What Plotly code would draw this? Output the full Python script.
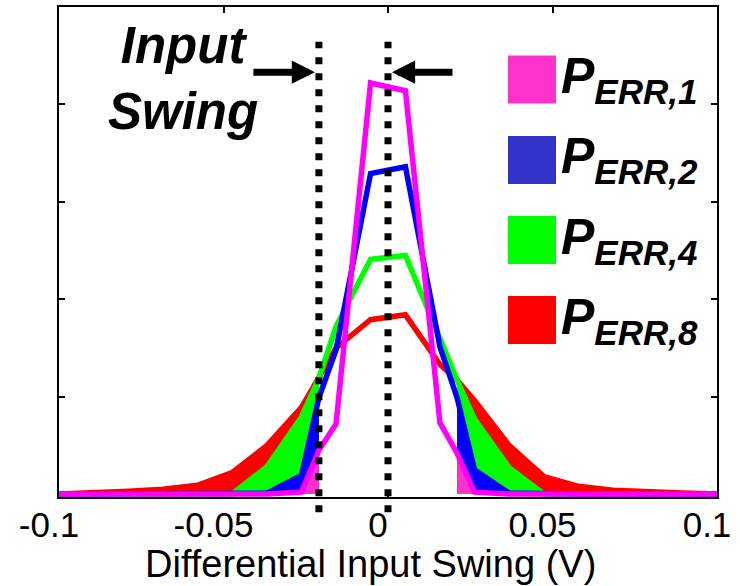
import plotly.graph_objects as go

# ---- data ----
x_v = [-0.1, -0.0895, -0.0789, -0.0684, -0.0579, -0.0474, -0.0368, -0.0263, -0.021, -0.0158, -0.0053,
       0.0053, 0.0158, 0.021, 0.0263, 0.0368, 0.0474, 0.0579, 0.0684, 0.0789, 0.0895, 0.1]
p_err1 = [0, 0, 0, 0, 0, 0, 0, 0.02, 0.45, 0.72, 4.22, 4.14, 0.73, 0.42, 0.02, 0, 0, 0, 0, 0, 0, 0]
p_err2 = [0, 0, 0, 0, 0, 0, 0.01, 0.19, 0.99, 1.48, 3.29, 3.36, 1.51, 0.99, 0.25, 0.01, 0, 0, 0, 0, 0, 0]
p_err4 = [0, 0, 0, 0, 0, 0, 0.28, 0.79, 1.19, 1.72, 2.41, 2.45, 1.6, 1.17, 0.77, 0.27, 0, 0, 0, 0, 0, 0]
p_err8 = [0, 0.01, 0.03, 0.05, 0.09, 0.22, 0.5, 0.89, 1.19, 1.5, 1.79, 1.84, 1.33, 1.17, 0.96, 0.5, 0.18,
          0.08, 0.04, 0.02, 0.01, 0]

swing_lo = -0.021   # left dotted marker
swing_hi = 0.0      # right dotted marker

x_ticks = [-0.1, -0.05, 0, 0.05, 0.1]
x_ticktext = ["-0.1", "-0.05", "0", "0.05", "0.1"]
y_ticks = [1, 2, 3, 4]

series_names = ["P<sub>ERR,8</sub>", "P<sub>ERR,4</sub>", "P<sub>ERR,2</sub>", "P<sub>ERR,1</sub>"]
series_vals = [p_err8, p_err4, p_err2, p_err1]
line_colors = ["#ff0000", "#00ff00", "#0000ff", "#ff00ff"]
fill_colors = ["#ff0000", "#00ff00", "#0000ff", "#ff33cc"]
legend_colors = ["#ff0000", "#00ff00", "#3333cc", "#ff33cc"]

edge = abs(swing_lo)

fig = go.Figure()
for vals, lc, fc in zip(series_vals, line_colors, fill_colors):
    lx = [x for x in x_v if x <= -edge]
    ly = [y for x, y in zip(x_v, vals) if x <= -edge]
    rx = [x for x in x_v if x >= edge]
    ry = [y for x, y in zip(x_v, vals) if x >= edge]
    for tx, ty in ((lx, ly), (rx, ry)):
        fig.add_trace(go.Scatter(x=tx, y=ty, mode="lines", fill="tozeroy", fillcolor=fc,
                                 line=dict(width=0, color=fc), hoverinfo="skip", showlegend=False))
    fig.add_trace(go.Scatter(x=x_v, y=vals, mode="lines", line=dict(color=lc, width=5.5),
                             showlegend=False))

axis_font = dict(family="Liberation Sans, Arial, sans-serif", size=35, color="black")
title_font = dict(family="Liberation Sans, Arial, sans-serif", size=38, color="black")
text_font = dict(family="Liberation Sans, Arial, sans-serif", size=51, color="black")

# dotted markers
for xv in (swing_lo, swing_hi):
    fig.add_shape(type="line", xref="x", yref="paper", x0=xv, x1=xv, y0=-0.031, y1=0.929,
                  line=dict(color="black", width=7, dash="7px,9px"))

# arrows
fig.add_annotation(x=swing_lo, y=0.867, xref="x", yref="paper", text="", showarrow=True,
                   ax=-67, ay=0, arrowhead=2, arrowsize=0.66, arrowwidth=7, arrowcolor="black",
                   standoff=4)
fig.add_annotation(x=swing_hi, y=0.867, xref="x", yref="paper", text="", showarrow=True,
                   ax=66, ay=0, arrowhead=2, arrowsize=0.66, arrowwidth=7, arrowcolor="black",
                   standoff=4)

fig.add_annotation(x=0.1884, y=0.855, xref="paper", yref="paper",
                   text="<b><i>Input<br>Swing</i></b>", showarrow=False,
                   xanchor="center", yanchor="middle", align="center", font=text_font)

# custom legend (top entry = P_ERR,1)
leg_centers = [79.5, 160, 240, 320]
for i, k in enumerate([3, 2, 1, 0]):
    cy = leg_centers[i]
    fig.add_shape(type="rect", xref="paper", yref="paper",
                  x0=(508 - 59) / 658, x1=(556 - 59) / 658,
                  y0=(497 - (cy + 24)) / 490, y1=(497 - (cy - 24)) / 490,
                  fillcolor=legend_colors[k], line=dict(width=0))
    fig.add_annotation(x=(559 - 59) / 658, y=(497 - cy) / 490, xref="paper", yref="paper",
                       text="<b><i>" + series_names[k] + "</i></b>", showarrow=False,
                       xanchor="left", yanchor="middle", font=dict(text_font, size=50))

fig.add_annotation(x=(370 - 59) / 658, y=(497 - 564) / 490, xref="paper", yref="paper",
                   text="Differential Input Swing (V)", showarrow=False,
                   xanchor="center", yanchor="middle", font=title_font)

fig.update_xaxes(range=[-0.1, 0.1], tickvals=x_ticks, ticktext=x_ticktext, ticks="inside",
                 ticklen=6, tickwidth=1.5, tickcolor="black", showline=True, linecolor="black",
                 linewidth=1.5, mirror="ticks", showgrid=False, zeroline=False,
                 tickfont=axis_font, layer="below traces", ticklabeloverflow="allow",
                 ticklabelstandoff=-4, ticklabelshift=-10, automargin=False)
fig.update_yaxes(range=[-0.03, 5], tickvals=y_ticks, showticklabels=False, ticks="inside",
                 ticklen=6, tickwidth=1.5, tickcolor="black", showline=True, linecolor="black",
                 linewidth=1.5, mirror="ticks", showgrid=False, zeroline=False,
                 layer="below traces", automargin=False)

fig.update_layout(width=740, height=586, margin=dict(l=59, r=23, t=7, b=89),
                  plot_bgcolor="white", paper_bgcolor="white", showlegend=False)

fig.write_html("out.html")
